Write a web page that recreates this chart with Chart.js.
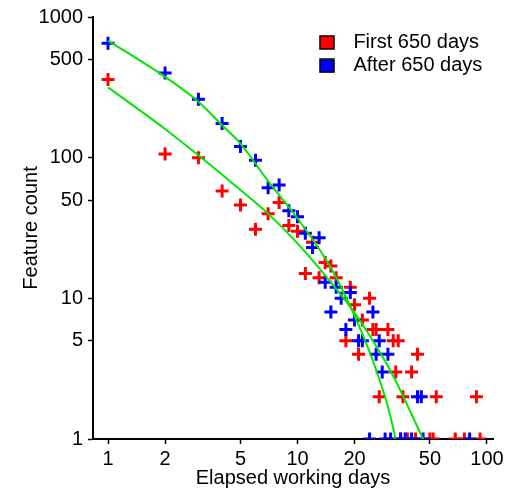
<!DOCTYPE html>
<html>
<head>
<meta charset="utf-8">
<script src="https://cdn.jsdelivr.net/npm/chart.js@4"></script>
<style>
  html, body { margin: 0; padding: 0; background: #fff; }
  #wrap { width: 507px; height: 492px; }
</style>
</head>
<body>
<div id="wrap"><canvas id="chart-section"></canvas></div>
<script>
// first 650 days (red)
const firstDays = [1, 2, 3, 4, 5, 6, 7, 8, 9, 10, 11, 12, 13, 14, 15, 16, 19, 20, 24, 22, 25, 26, 30, 18, 32, 34, 21, 43, 33, 40, 27, 36, 54, 88,
  35, 38, 42, 50, 52, 68, 76, 92];
const firstCounts = [360, 106, 100, 58, 46, 31, 40, 48, 33, 30, 15, 25, 14, 18, 17, 14, 12, 9, 10, 7, 6, 6, 6, 5, 5, 5, 4, 4, 3, 3, 2, 2, 2, 2,
  1, 1, 1, 1, 1, 1, 1, 1];

// after 650 days (blue)
const afterDays = [1, 2, 3, 4, 5, 6, 7, 8, 9, 10, 11, 12, 13, 14, 16, 19, 17, 15, 25, 20, 18, 21, 22, 27, 26, 30, 28, 43, 45,
  24, 29, 31, 35, 37, 40, 46, 81];
const afterCounts = [650, 400, 260, 175, 120, 96, 61, 64, 42, 38, 29, 23, 27, 13, 12, 11, 10, 8, 8, 7, 6, 5, 5, 5, 4, 4, 3, 2, 2,
  1, 1, 1, 1, 1, 1, 1, 1];

// fitted curves (green)
const firstFitDays = [1, 2, 3, 5, 7, 10, 15, 20, 25, 30, 35, 40, 46];
const firstFitCounts = [316, 160, 104, 59, 40, 24.6, 13, 7.9, 5, 3.3, 2.2, 1.5, 1];
const afterFitDays = [1, 2, 3, 4, 5, 7, 10, 15, 20, 25, 30, 33];
const afterFitCounts = [680, 375, 250, 170, 126, 68, 37, 16.5, 7.5, 3.6, 1.7, 1];

const xTicks = [1, 2, 5, 10, 20, 50, 100];
const yTicks = [1, 5, 10, 50, 100, 500, 1000];

const seriesNames = ['First 650 days', 'After 650 days'];
const seriesColors = ['#ff0000', '#0000ff'];
const fitColor = '#00e600';

const pairs = (xs, ys) => xs.map((x, i) => ({x: x, y: ys[i]}));

const swatch = (color) => {
  const c = document.createElement('canvas');
  c.width = 16;
  c.height = 15;
  const g = c.getContext('2d');
  g.fillStyle = color;
  g.fillRect(1, 1, 14, 13);
  g.strokeStyle = '#000';
  g.lineWidth = 1.5;
  g.strokeRect(1, 1, 14, 13);
  return c;
};

// move the legend inside the plot, top right
const legendSpot = {
  id: 'legendSpot',
  afterLayout(chart) {
    chart.legend.left = 307;
    chart.legend.top = 29;
  }
};

Chart.defaults.font.family = '"Liberation Sans", Arial, sans-serif';
Chart.defaults.font.weight = 'normal';
Chart.defaults.color = '#000';

const tickFont = {size: 20, weight: 'normal'};

const ctx = document.getElementById('chart-section');
new Chart(ctx, {
  type: 'scatter',
  data: {
    datasets: [
      {
        label: 'First fit',
        data: pairs(firstFitDays, firstFitCounts),
        showLine: true,
        borderColor: fitColor,
        borderWidth: 2,
        pointRadius: 0,
        cubicInterpolationMode: 'monotone',
        order: 0
      },
      {
        label: 'After fit',
        data: pairs(afterFitDays, afterFitCounts),
        showLine: true,
        borderColor: fitColor,
        borderWidth: 2,
        pointRadius: 0,
        cubicInterpolationMode: 'monotone',
        order: 0
      },
      {
        label: seriesNames[1],
        data: pairs(afterDays, afterCounts),
        pointStyle: 'cross',
        pointRadius: 6.5,
        borderWidth: 3,
        borderColor: seriesColors[1],
        backgroundColor: seriesColors[1],
        order: 1
      },
      {
        label: seriesNames[0],
        data: pairs(firstDays, firstCounts),
        pointStyle: 'cross',
        pointRadius: 6.5,
        borderWidth: 3,
        borderColor: seriesColors[0],
        backgroundColor: seriesColors[0],
        order: 2
      }
    ]
  },
  options: {
    responsive: true,
    maintainAspectRatio: false,
    animation: false,
    events: [],
    clip: 0,
    layout: {
      padding: {left: 0, right: 14, top: 17, bottom: 0}
    },
    scales: {
      x: {
        type: 'logarithmic',
        min: 0.833,
        max: 107.6,
        bounds: 'data',
        afterBuildTicks: (scale) => { scale.ticks = xTicks.map(v => ({value: v})); },
        afterFit: (scale) => { scale.height = 53; },
        ticks: {
          autoSkip: false,
          maxRotation: 0,
          padding: 3,
          font: tickFont,
          major: {enabled: false},
          callback: (v) => String(v)
        },
        grid: {
          drawOnChartArea: false,
          drawTicks: true,
          tickLength: 5,
          tickColor: '#000',
          tickWidth: 1.5
        },
        border: {display: true, color: '#000', width: 2},
        title: {
          display: true,
          text: 'Elapsed working days',
          font: {size: 20},
          padding: {top: 0, bottom: 2}
        }
      },
      y: {
        type: 'logarithmic',
        min: 1,
        max: 1000,
        bounds: 'data',
        afterBuildTicks: (scale) => { scale.ticks = yTicks.map(v => ({value: v})); },
        afterFit: (scale) => { scale.width = 93; },
        ticks: {
          autoSkip: false,
          padding: 5,
          font: tickFont,
          major: {enabled: false},
          callback: (v) => String(v)
        },
        grid: {
          drawOnChartArea: false,
          drawTicks: true,
          tickLength: 5,
          tickColor: '#000',
          tickWidth: 1.5
        },
        border: {display: true, color: '#000', width: 2},
        title: {
          display: true,
          text: 'Feature count',
          font: {size: 20},
          padding: {top: 19, bottom: 0}
        }
      }
    },
    plugins: {
      legend: {
        position: 'chartArea',
        align: 'start',
        labels: {
          usePointStyle: true,
          pointStyleWidth: 33,
          padding: 3.4,
          font: {size: 20},
          generateLabels: () => seriesNames.map((name, i) => ({
            text: name,
            pointStyle: swatch(seriesColors[i]),
            fillStyle: seriesColors[i],
            strokeStyle: '#000',
            lineWidth: 0,
            fontColor: '#000',
            hidden: false
          }))
        }
      },
      tooltip: {enabled: false}
    }
  },
  plugins: [legendSpot]
});
</script>
</body>
</html>
